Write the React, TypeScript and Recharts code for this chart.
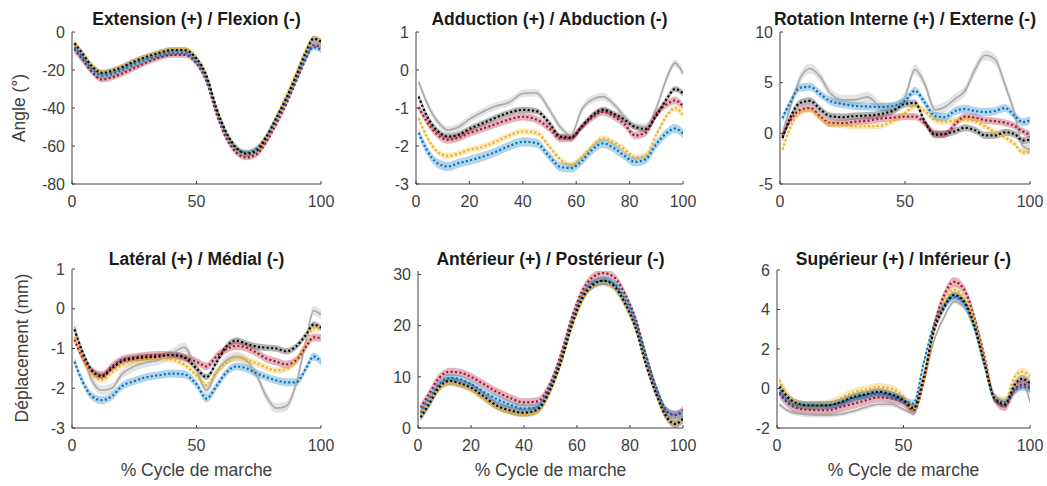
import React from 'react';
import { ComposedChart, Line, Area, XAxis, YAxis } from 'recharts';

const FONT = '"Liberation Sans", Arial, Helvetica, sans-serif';

// Gait cycle sample positions (%)
const X = [1, 4, 8, 12, 16, 20, 25, 30, 35, 40, 45, 50, 54, 58, 62, 66, 70, 74, 78, 82, 86, 90, 94, 97, 100];

// Panel 1: Extension (+) / Flexion (-)
const extGray = [-10, -15, -21, -23.5, -22.5, -20.5, -17.5, -15, -12.5, -11, -10.5, -15, -24, -41, -54, -62, -64.5, -62.5, -56, -46, -35, -23.5, -11.5, -5, -6.5];
const extBlack = [-6, -11, -18, -21.5, -20.5, -18.5, -15.5, -13, -11, -9.5, -9.5, -14, -23, -40, -53, -61, -64, -62.5, -55.5, -45.5, -35, -23, -10.5, -3.5, -5];
const extRed = [-9, -14, -21, -25, -24, -22, -19, -16, -13.5, -12, -12, -16.5, -26, -43, -56, -63.5, -66, -64.5, -58, -48.5, -38, -26, -14, -7, -7.5];
const extYellow = [-5.5, -10.5, -17.5, -21, -20, -18, -15, -12.5, -10.5, -9, -9, -13.5, -22.5, -39.5, -52.5, -60.5, -63.5, -61.5, -54.5, -44.5, -33.5, -21.5, -9, -3, -4];
const extBlue = [-8, -13, -19.5, -23, -22, -20, -17, -14.5, -12.5, -11, -11, -15.5, -24.5, -41, -54, -61.5, -63.5, -61.5, -55, -45.5, -35.5, -24.5, -13, -8, -9.5];
const extSd = [1.5, 1.5, 1.5, 1.2, 1.5];

// Panel 2: Adduction (+) / Abduction (-)
const addGray = [-0.31, -0.85, -1.35, -1.58, -1.5, -1.3, -1.1, -0.95, -0.85, -0.62, -0.6, -1.05, -1.5, -1.72, -1.05, -0.78, -0.7, -0.9, -1.22, -1.48, -1.5, -1.0, -0.2, 0.18, -0.09];
const addBlack = [-0.7, -1.2, -1.6, -1.75, -1.7, -1.55, -1.4, -1.25, -1.12, -1.05, -1.08, -1.4, -1.75, -1.78, -1.5, -1.2, -1.05, -1.15, -1.3, -1.5, -1.55, -1.2, -0.75, -0.5, -0.61];
const addRed = [-0.98, -1.35, -1.7, -1.84, -1.78, -1.66, -1.54, -1.42, -1.3, -1.23, -1.3, -1.54, -1.8, -1.8, -1.5, -1.25, -1.1, -1.22, -1.42, -1.72, -1.65, -1.15, -0.9, -0.8, -0.96];
const addYellow = [-1.27, -1.75, -2.15, -2.26, -2.2, -2.1, -2.02, -1.88, -1.72, -1.62, -1.65, -2.02, -2.35, -2.5, -2.3, -2.0, -1.8, -1.9, -2.08, -2.3, -2.25, -1.7, -1.2, -1.0, -1.18];
const addBlue = [-1.65, -2.1, -2.45, -2.54, -2.45, -2.38, -2.28, -2.15, -2.0, -1.89, -1.92, -2.28, -2.55, -2.58, -2.4, -2.1, -1.93, -2.05, -2.25, -2.42, -2.35, -1.95, -1.65, -1.54, -1.67];
const addSd = [0.1, 0.08, 0.1, 0.08, 0.12];

// Panel 3: Rotation Interne (+) / Externe (-)
const rotGray = [0.0, 2.5, 5.4, 6.4, 5.6, 4.0, 3.3, 3.3, 3.6, 2.7, 2.5, 3.6, 6.3, 4.8, 2.3, 2.6, 3.4, 4.2, 6.3, 7.7, 7.3, 4.8, 1.8, -1.2, -1.6];
const rotBlack = [-0.46, 1.5, 3.0, 3.2, 2.4, 1.7, 1.6, 1.7, 1.75, 1.9, 2.2, 2.9, 3.0, 1.1, -0.15, -0.05, 0.2, 0.55, 0.3, -0.2, -0.2, 0.1, -0.1, -0.7, -0.62];
const rotRed = [-0.3, 1.2, 2.3, 2.5, 1.7, 1.0, 1.0, 1.15, 1.25, 1.45, 1.55, 1.65, 1.65, 1.0, 0.0, -0.1, 0.9, 1.65, 1.55, 1.3, 1.2, 1.05, 0.7, 0.2, -0.13];
const rotYellow = [-1.6, 0.5, 2.0, 2.3, 1.5, 0.9, 0.8, 0.7, 0.7, 0.75, 1.2, 2.0, 2.7, 2.2, 1.3, 1.15, 1.3, 1.35, 1.2, 0.7, 0.1, -0.4, -1.1, -1.9, -1.78];
const rotBlue = [1.5, 3.0, 4.5, 4.6, 3.9, 3.2, 2.9, 2.7, 2.65, 2.6, 2.7, 3.2, 4.2, 3.0, 1.7, 1.6, 2.2, 2.4, 2.2, 2.1, 2.2, 2.5, 1.7, 1.1, 1.3];
const rotSd = [0.5, 0.35, 0.35, 0.3, 0.4];

// Panel 4: Latéral (+) / Médial (-)
const latGray = [-0.45, -1.1, -1.8, -2.05, -2.0, -1.65, -1.45, -1.35, -1.29, -1.14, -0.97, -1.54, -2.05, -1.6, -1.3, -1.2, -1.3, -1.65, -2.2, -2.5, -2.45, -1.9, -0.8, -0.05, -0.15];
const latBlack = [-0.52, -1.05, -1.55, -1.7, -1.5, -1.32, -1.25, -1.22, -1.2, -1.16, -1.22, -1.5, -1.72, -1.35, -0.95, -0.8, -0.88, -0.95, -0.98, -1.0, -1.07, -0.95, -0.65, -0.4, -0.48];
const latRed = [-0.78, -1.2, -1.58, -1.67, -1.45, -1.28, -1.22, -1.18, -1.16, -1.17, -1.22, -1.33, -1.45, -1.2, -1.02, -0.93, -0.98, -1.1, -1.25, -1.33, -1.4, -1.3, -0.95, -0.72, -0.74];
const latYellow = [-0.7, -1.2, -1.65, -1.79, -1.6, -1.42, -1.32, -1.27, -1.24, -1.28, -1.4, -1.68, -1.92, -1.6, -1.35, -1.22, -1.28, -1.37, -1.48, -1.55, -1.52, -1.3, -0.85, -0.5, -0.48];
const latBlue = [-1.33, -1.8, -2.2, -2.3, -2.2, -1.95, -1.82, -1.72, -1.67, -1.63, -1.65, -1.9, -2.26, -1.95, -1.6, -1.45, -1.5, -1.62, -1.72, -1.8, -1.85, -1.85, -1.5, -1.2, -1.33];
const latSd = [0.12, 0.08, 0.1, 0.08, 0.1];

// Panel 5: Antérieur (+) / Postérieur (-)
const antGray = [2.3, 4.8, 8.0, 9.0, 8.8, 8.0, 6.3, 4.5, 3.6, 3.2, 3.6, 7.6, 13.0, 20.0, 25.3, 28.0, 28.5, 27.6, 24.3, 19.6, 12.5, 6.5, 2.0, 1.0, 1.6];
const antBlack = [2.1, 4.5, 8.0, 9.2, 8.7, 7.9, 6.1, 4.3, 3.4, 3.0, 3.6, 7.6, 13.0, 20.0, 25.3, 28.0, 28.8, 27.8, 24.5, 19.8, 12.5, 6.5, 2.0, 0.8, 1.8];
const antRed = [4.0, 6.5, 9.8, 11.0, 10.8, 10.0, 8.5, 7.0, 5.8, 5.0, 5.2, 8.8, 14.5, 21.5, 26.8, 29.5, 30.3, 29.5, 26.3, 21.5, 14.3, 7.5, 3.2, 2.5, 3.5];
const antYellow = [2.6, 5.0, 7.8, 8.8, 8.4, 7.5, 5.7, 4.0, 3.1, 2.7, 3.2, 7.3, 12.8, 19.8, 25.2, 27.9, 28.5, 27.6, 24.4, 19.8, 12.5, 6.5, 1.8, 0.9, 1.5];
const antBlue = [3.0, 5.5, 8.6, 9.8, 9.5, 8.6, 7.0, 5.6, 4.5, 3.8, 4.0, 8.0, 13.5, 20.5, 25.8, 28.3, 28.8, 28.2, 25.3, 21.0, 14.0, 7.8, 3.2, 2.6, 3.0];
const antSd = [0.8, 0.8, 0.8, 0.6, 0.8];

// Panel 6: Supérieur (+) / Inférieur (-)
const supGray = [-0.8, -1.1, -1.27, -1.33, -1.35, -1.35, -1.3, -1.15, -0.95, -0.8, -0.8, -1.05, -1.27, 0.3, 2.4, 3.6, 4.4, 4.1, 3.0, 1.1, -0.55, -0.75, 0.12, 0.25, -0.68];
const supBlack = [0.1, -0.4, -0.76, -0.85, -0.86, -0.85, -0.7, -0.45, -0.3, -0.17, -0.3, -0.6, -1.0, 0.6, 2.9, 4.1, 4.73, 4.4, 3.2, 1.3, -0.5, -0.8, 0.2, 0.5, 0.25];
const supRed = [-0.25, -0.7, -1.0, -1.08, -1.1, -1.1, -0.95, -0.78, -0.6, -0.45, -0.5, -0.68, -1.1, 0.4, 3.1, 4.7, 5.4, 5.0, 3.6, 1.6, -0.5, -0.9, -0.05, 0.22, 0.0];
const supYellow = [0.42, -0.3, -0.8, -0.85, -0.82, -0.78, -0.5, -0.2, -0.05, 0.08, 0.0, -0.42, -1.0, 0.5, 3.0, 4.4, 5.0, 4.6, 3.4, 1.4, -0.45, -0.6, 0.6, 0.85, 0.6];
const supBlue = [-0.17, -0.6, -0.85, -0.86, -0.86, -0.85, -0.75, -0.5, -0.35, -0.25, -0.35, -0.6, -0.76, 1.3, 3.2, 4.2, 4.65, 4.3, 3.1, 1.2, -0.5, -0.7, -0.1, 0.08, 0.0];
const supSd = [0.12, 0.2, 0.25, 0.2, 0.2];

const KEYS = ['gray', 'black', 'red', 'yellow', 'blue'];
const LINE_COLOR: Record<string, string> = { gray: '#a9a9a9', black: '#000000', red: '#A2142F', yellow: '#EDB120', blue: '#0072BD' };
const BAND_COLOR: Record<string, string> = { gray: '#c8c8c8', black: '#808080', red: '#A2142F', yellow: '#EDB120', blue: '#0072BD' };
const BAND_OPACITY: Record<string, number> = { gray: 0.5, black: 0.6, red: 0.32, yellow: 0.3, blue: 0.3 };
const LINE_ORDER = ['gray', 'red', 'yellow', 'blue', 'black'];

function buildRows(series: number[][], sd: number[]) {
  return X.map((x, i) => {
    const row: Record<string, any> = { x };
    KEYS.forEach((k, j) => {
      const v = series[j][i];
      row[k] = v;
      row[k + 'Band'] = [v - sd[j], v + sd[j]];
    });
    return row;
  });
}

const AXIS_COLOR = '#404040';

type PanelProps = {
  data: any[];
  left: number;
  top: number;
  w: number;
  h: number;
  yDomain: [number, number];
  yTicks: number[];
  xTicks: number[];
};

function Panel({ data, left, top, w, h, yDomain, yTicks, xTicks }: PanelProps) {
  const ML = 60, MT = 15, MR = 16, XH = 40;
  return (
    <div style={{ position: 'absolute', left: left - ML, top: top - MT }}>
      <ComposedChart width={ML + w + MR} height={MT + h + XH} data={data} margin={{ top: MT, right: MR, bottom: 0, left: 0 }}>
        <XAxis
          dataKey="x"
          type="number"
          domain={[0, 100]}
          ticks={xTicks}
          interval={0}
          height={XH}
          tickSize={-3}
          tickMargin={15}
          stroke={AXIS_COLOR}
          tick={{ fill: AXIS_COLOR, fontSize: 16, fontFamily: FONT }}
          allowDataOverflow
        />
        <YAxis
          type="number"
          domain={yDomain}
          ticks={yTicks}
          interval={0}
          width={ML}
          tickSize={-3}
          tickMargin={10}
          stroke={AXIS_COLOR}
          tick={{ fill: AXIS_COLOR, fontSize: 16, fontFamily: FONT }}
          allowDataOverflow
        />
        {KEYS.map((k) => (
          <Area
            key={k + 'Band'}
            dataKey={k + 'Band'}
            type="monotone"
            stroke="none"
            fill={BAND_COLOR[k]}
            fillOpacity={BAND_OPACITY[k]}
            isAnimationActive={false}
            activeDot={false}
          />
        ))}
        {LINE_ORDER.map((k) => (
          <Line
            key={k}
            dataKey={k}
            type="monotone"
            stroke={LINE_COLOR[k]}
            strokeWidth={k === 'gray' ? 1.6 : 2.2}
            strokeDasharray={k === 'gray' ? undefined : '2 2.4'}
            dot={false}
            activeDot={false}
            isAnimationActive={false}
          />
        ))}
      </ComposedChart>
    </div>
  );
}

const TITLES = [
  'Extension (+) / Flexion (-)',
  'Adduction (+) / Abduction (-)',
  'Rotation Interne (+) / Externe (-)',
  'Latéral (+) / Médial (-)',
  'Antérieur (+) / Postérieur (-)',
  'Supérieur (+) / Inférieur (-)',
];
const Y_LABELS = ['Angle (°)', 'Déplacement (mm)'];
const X_LABEL = '% Cycle de marche';

export default function App() {
  const panels = [
    { data: buildRows([extGray, extBlack, extRed, extYellow, extBlue], extSd), left: 72, top: 32, w: 249, h: 152, yDomain: [-80, 0] as [number, number], yTicks: [-80, -60, -40, -20, 0], xTicks: [0, 50, 100] },
    { data: buildRows([addGray, addBlack, addRed, addYellow, addBlue], addSd), left: 416, top: 32, w: 267, h: 152, yDomain: [-3, 1] as [number, number], yTicks: [-3, -2, -1, 0, 1], xTicks: [0, 20, 40, 60, 80, 100] },
    { data: buildRows([rotGray, rotBlack, rotRed, rotYellow, rotBlue], rotSd), left: 780, top: 32, w: 250, h: 152, yDomain: [-5, 10] as [number, number], yTicks: [-5, 0, 5, 10], xTicks: [0, 50, 100] },
    { data: buildRows([latGray, latBlack, latRed, latYellow, latBlue], latSd), left: 72, top: 269, w: 249, h: 159, yDomain: [-3, 1] as [number, number], yTicks: [-3, -2, -1, 0, 1], xTicks: [0, 50, 100] },
    { data: buildRows([antGray, antBlack, antRed, antYellow, antBlue], antSd), left: 418, top: 271, w: 265, h: 157, yDomain: [0, 30.7] as [number, number], yTicks: [0, 10, 20, 30], xTicks: [0, 20, 40, 60, 80, 100] },
    { data: buildRows([supGray, supBlack, supRed, supYellow, supBlue], supSd), left: 777, top: 270, w: 253, h: 158, yDomain: [-2, 6] as [number, number], yTicks: [-2, 0, 2, 4, 6], xTicks: [0, 50, 100] },
  ];
  return (
    <div style={{ position: 'absolute', left: 0, top: 0, width: 1047, height: 486, background: '#ffffff', overflow: 'hidden' }}>
      {panels.map((p, i) => (
        <Panel key={i} {...p} />
      ))}
      <svg width={1047} height={486} style={{ position: 'absolute', left: 0, top: 0, pointerEvents: 'none' }}>
        {panels.map((p, i) => (
          <text key={'t' + i} x={p.left + p.w / 2} y={i < 3 ? 25 : 265} textAnchor="middle" fontFamily={FONT} fontWeight="bold" fontSize={17.5} fill="#1a1a1a">
            {TITLES[i]}
          </text>
        ))}
        <text x={0} y={0} transform="translate(25,108) rotate(-90)" textAnchor="middle" fontFamily={FONT} fontSize={17.5} fill={AXIS_COLOR}>
          {Y_LABELS[0]}
        </text>
        <text x={0} y={0} transform="translate(28,348) rotate(-90)" textAnchor="middle" fontFamily={FONT} fontSize={17.5} fill={AXIS_COLOR}>
          {Y_LABELS[1]}
        </text>
        {panels.slice(3).map((p, i) => (
          <text key={'x' + i} x={p.left + p.w / 2} y={476} textAnchor="middle" fontFamily={FONT} fontSize={17.5} fill={AXIS_COLOR}>
            {X_LABEL}
          </text>
        ))}
      </svg>
    </div>
  );
}
